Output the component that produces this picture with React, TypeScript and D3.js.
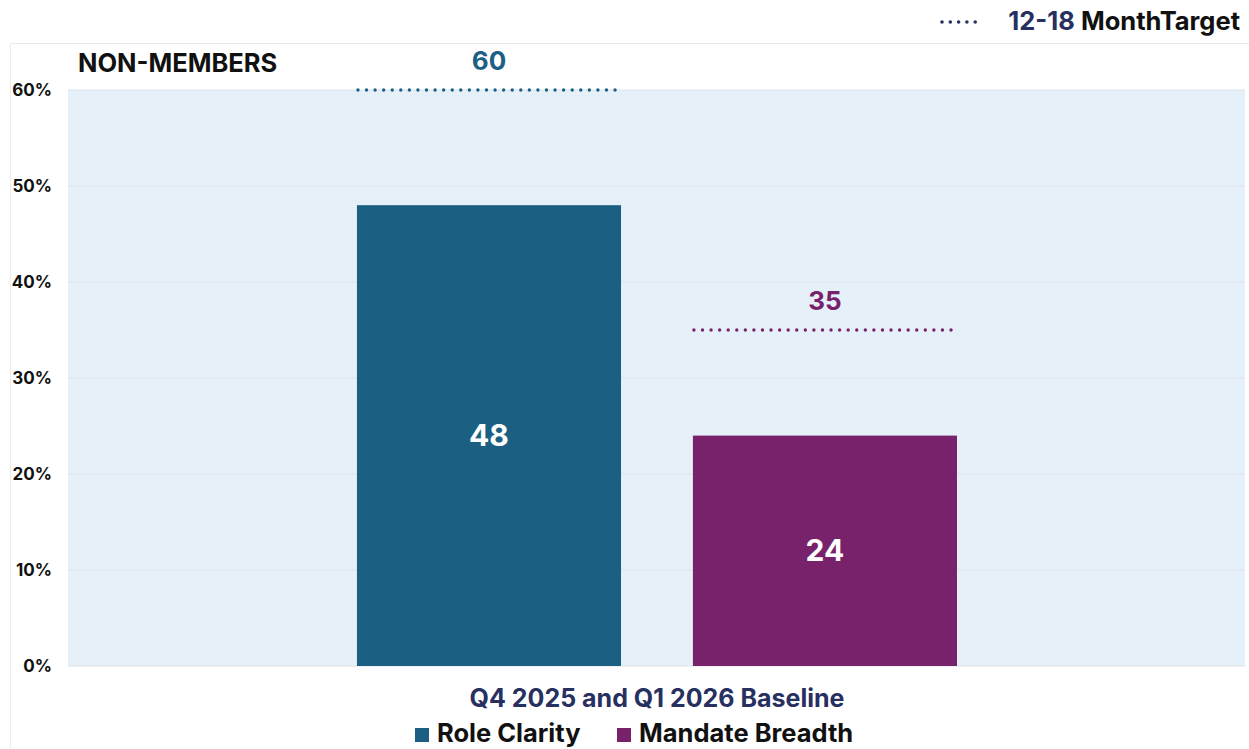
import React from "react";
import * as d3 from "d3";

const categories = ["Q4 2025 and Q1 2026 Baseline"];
const seriesNames = ["Role Clarity", "Mandate Breadth"];
const seriesValues = [48, 24];
const targetValues = [60, 35];
const seriesColors = ["#1b6082", "#78226b"];
const yTicks = [0, 10, 20, 30, 40, 50, 60];

const W = 1249;
const H = 749;
const FONT = "Inter, 'Noto Sans', sans-serif";

export default function App() {
  const left = 68, right = 1245, top = 90, bottom = 666;
  const y = d3.scaleLinear().domain([0, 60]).range([bottom, top]);
  const x0 = d3.scaleBand().domain(categories).range([left, right]).paddingInner(0).paddingOuter(0);
  const groupW = x0.bandwidth();
  const x1 = d3
    .scaleBand()
    .domain(seriesNames)
    .range([groupW * 0.2455, groupW * 0.7553])
    .paddingInner(0.214)
    .paddingOuter(0);
  const cat = categories[0];
  const gx = x0(cat)!;

  return (
    <svg width={W} height={H} style={{ position: "absolute", left: 0, top: 0, background: "#fff" }}>
      {/* card border */}
      <line x1={10} x2={W} y1={43.5} y2={43.5} stroke="#e8e8e8" />
      <line x1={10.5} x2={10.5} y1={43} y2={H} stroke="#ececec" />
      {/* plot bg */}
      <rect x={left} y={top} width={right - left} height={bottom - top} fill="#e6f0f9" />
      {yTicks.map((t) => (
        <g key={t}>
          <line x1={left} x2={right} y1={y(t)} y2={y(t)} stroke="#dbe4ec" strokeWidth={1} />
          <text x={52} y={y(t)} dy="0.35em" textAnchor="end" fontFamily={FONT} fontWeight={700} fontSize={17} fill="#111">
            {t}%
          </text>
        </g>
      ))}
      {seriesNames.map((s, i) => {
        const bx = gx + x1(s)!;
        const bw = x1.bandwidth();
        const v = seriesValues[i];
        const tv = targetValues[i];
        return (
          <g key={s}>
            <rect x={bx} y={y(v)} width={bw} height={y(0) - y(v)} fill={seriesColors[i]} />
            <text x={bx + bw / 2} y={y(v / 2)} dy="0.35em" textAnchor="middle" fontFamily={FONT} fontWeight={700} fontSize={30} fill="#fff">
              {v}
            </text>
            <line x1={bx + 1} x2={bx + bw - 3} y1={y(tv)} y2={y(tv)} stroke={seriesColors[i]} strokeWidth={3.4} strokeDasharray="0 8.57" strokeLinecap="round" />
            <text x={bx + bw / 2} y={y(tv) - 29} dy="0.35em" textAnchor="middle" fontFamily={FONT} fontWeight={700} fontSize={26} fill={seriesColors[i]}>
              {tv}
            </text>
          </g>
        );
      })}
      <text x={78} y={72} fontFamily={FONT} fontWeight={700} fontSize={25.5} fill="#111">NON-MEMBERS</text>
      {/* target legend */}
      <line x1={942} x2={977} y1={22} y2={22} stroke="#27305f" strokeWidth={3.6} strokeDasharray="0 8.3" strokeLinecap="round" />
      <text x={1240} y={30} textAnchor="end" fontFamily={FONT} fontWeight={700} fontSize={25.5} fill="#111">
        <tspan fill="#27305f">12-18 </tspan>MonthTarget
      </text>
      {/* category label */}
      <text x={657} y={707} textAnchor="middle" fontFamily={FONT} fontWeight={700} fontSize={25} fill="#27305f">{cat}</text>
      {/* legend */}
      {seriesNames.map((s, i) => {
        const lx = [415, 617][i];
        return (
          <g key={s}>
            <rect x={lx} y={728} width={14} height={14} fill={seriesColors[i]} />
            <text x={lx + 22} y={742} fontFamily={FONT} fontWeight={700} fontSize={25.5} fill="#111">{s}</text>
          </g>
        );
      })}
    </svg>
  );
}
